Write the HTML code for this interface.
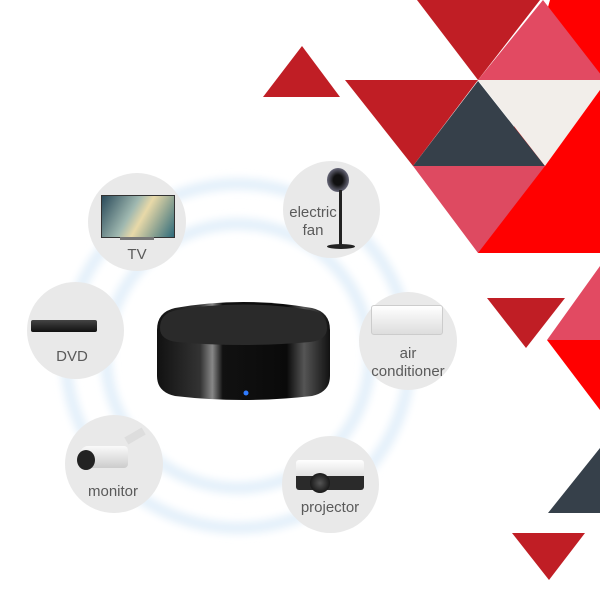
<!DOCTYPE html>
<html><head><style>
html,body{margin:0;padding:0;background:#fff;}
#c{position:relative;width:600px;height:600px;overflow:hidden;font-family:"Liberation Sans",sans-serif;}
.n{position:absolute;border-radius:50%;background:#e9e9e9;}
.t{position:absolute;color:#5a5a5a;font-size:15px;text-align:center;line-height:18px;width:100px;}
</style></head><body><div id="c">
<svg width="600" height="600" style="position:absolute;left:0;top:0">
<defs>
<filter id="b" x="-20%" y="-20%" width="140%" height="140%"><feGaussianBlur stdDeviation="4"/></filter>
<linearGradient id="hub" x1="0" y1="0" x2="1" y2="0">
<stop offset="0" stop-color="#111"/><stop offset="0.25" stop-color="#333"/><stop offset="0.32" stop-color="#888"/><stop offset="0.38" stop-color="#111"/><stop offset="0.75" stop-color="#0a0a0a"/><stop offset="0.85" stop-color="#555"/><stop offset="1" stop-color="#111"/></linearGradient>
</defs>
<polygon points="263,97 302,46 340,97" fill="#c01e25"/>
<polygon points="550,0 600,0 600,253 478,253" fill="#ff0000"/>
<polygon points="417,0 540,0 478,80" fill="#c01e25"/>
<polygon points="543,0 478,80 605,80" fill="#e24a62"/>
<polygon points="345,80 478,80 413,166" fill="#c01e25"/>
<polygon points="478,81 413,166 545,166" fill="#36404a"/>
<polygon points="478,80 600,80 600,90 545,166" fill="#f2eeea"/>
<polygon points="413,166 545,166 478,253" fill="#de4a61"/>
<polygon points="487,298 565,298 526,348" fill="#c01e25"/>
<polygon points="600,266 547,340 600,340" fill="#e24a62"/>
<polygon points="547,340 600,340 600,410" fill="#ff0000"/>
<polygon points="548,513 600,448 600,513" fill="#36404a"/>
<polygon points="512,533 585,533 549,580" fill="#c01e25"/>
<circle cx="238" cy="356" r="172" fill="none" stroke="#e4f0fa" stroke-width="12" filter="url(#b)"/>
<circle cx="238" cy="356" r="132" fill="none" stroke="#e4f0fa" stroke-width="12" filter="url(#b)"/>
<path d="M157,330 Q157,312 175,308 Q243,296 312,308 Q330,312 330,330 L330,376 Q330,392 312,396 Q243,404 175,396 Q157,392 157,376 Z" fill="url(#hub)"/>
<path d="M160,328 Q160,313 177,310 Q243,299 310,310 Q327,313 327,328 Q327,340 310,342 Q243,348 177,342 Q160,340 160,328 Z" fill="#2a2a2a"/>
<circle cx="246" cy="393" r="2.5" fill="#2f7bff"/>
</svg>
<div class="n" style="left:88px;top:173px;width:98px;height:98px"></div>
<div class="n" style="left:283px;top:161px;width:97px;height:97px"></div>
<div class="n" style="left:27px;top:282px;width:97px;height:97px"></div>
<div class="n" style="left:359px;top:292px;width:98px;height:98px"></div>
<div class="n" style="left:65px;top:415px;width:98px;height:98px"></div>
<div class="n" style="left:282px;top:436px;width:97px;height:97px"></div>
<div style="position:absolute;left:101px;top:195px;width:72px;height:41px;background:linear-gradient(120deg,#2a4a5a,#9fb8b0 40%,#e8d9a8 55%,#2e6a7a);border:1px solid #333"></div>
<div style="position:absolute;left:120px;top:237px;width:34px;height:3px;background:#777"></div>
<div style="position:absolute;left:327px;top:168px;width:22px;height:24px;border-radius:50%;background:radial-gradient(#111 30%,#667 70%,#333)"></div>
<div style="position:absolute;left:339px;top:190px;width:3px;height:55px;background:#222"></div>
<div style="position:absolute;left:327px;top:244px;width:28px;height:5px;border-radius:50%;background:#222"></div>
<div style="position:absolute;left:31px;top:320px;width:66px;height:12px;background:linear-gradient(#444,#111);border-radius:2px"></div>
<div style="position:absolute;left:371px;top:305px;width:70px;height:28px;background:linear-gradient(#fff,#ddd);border:1px solid #ccc;border-radius:3px"></div>
<div style="position:absolute;left:80px;top:446px;width:48px;height:22px;background:linear-gradient(#fafafa,#ccc);border-radius:8px 4px 4px 8px"></div>
<div style="position:absolute;left:77px;top:450px;width:18px;height:20px;border-radius:50%;background:#222"></div>
<div style="position:absolute;left:125px;top:432px;width:20px;height:8px;background:#ddd;transform:rotate(-30deg)"></div>
<div style="position:absolute;left:296px;top:460px;width:68px;height:18px;background:linear-gradient(#fff,#ddd);border-radius:3px"></div>
<div style="position:absolute;left:296px;top:476px;width:68px;height:14px;background:#2a2a2a;border-radius:0 0 3px 3px"></div>
<div style="position:absolute;left:310px;top:473px;width:20px;height:20px;border-radius:50%;background:radial-gradient(#555,#000)"></div>
<div class="t" style="left:87px;top:246px">TV</div>
<div class="t" style="left:263px;top:204px">electric<br>fan</div>
<div class="t" style="left:22px;top:348px">DVD</div>
<div class="t" style="left:358px;top:345px">air<br>conditioner</div>
<div class="t" style="left:63px;top:483px">monitor</div>
<div class="t" style="left:280px;top:499px">projector</div>
</div></body></html>
